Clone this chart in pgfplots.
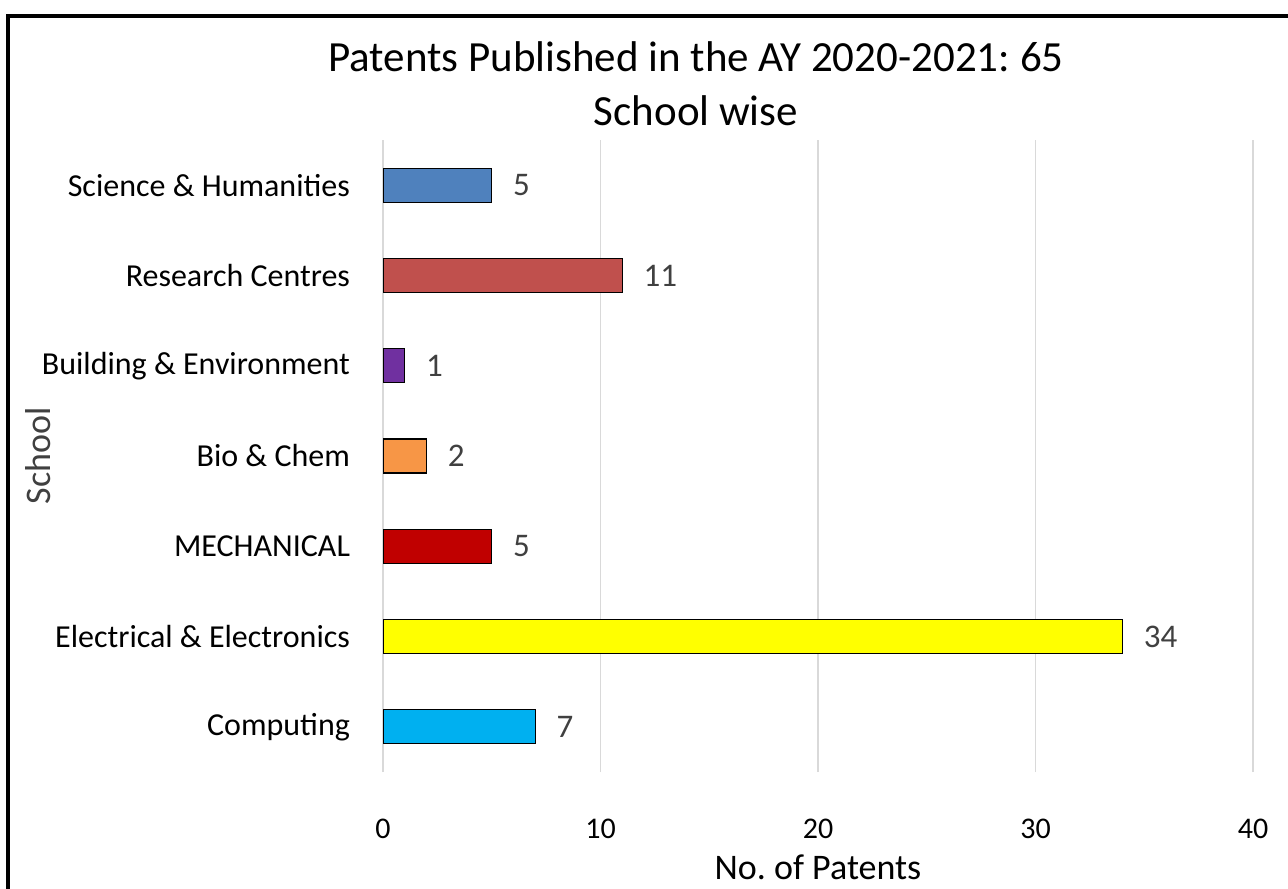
\documentclass[border=0pt]{standalone}
\usepackage{fontspec}
\setmainfont{Carlito}
\usepackage{pgfplots}
\pgfplotsset{compat=1.18}
\usepackage{xcolor}
\definecolor{c1}{HTML}{00B0F0}
\definecolor{c2}{HTML}{FFFF00}
\definecolor{c3}{HTML}{C00000}
\definecolor{c4}{HTML}{F79646}
\definecolor{c5}{HTML}{7030A0}
\definecolor{c6}{HTML}{C0504D}
\definecolor{c7}{HTML}{4F81BD}
\definecolor{gridgray}{HTML}{D9D9D9}
\definecolor{valtext}{HTML}{404040}
\frenchspacing
\begin{document}
\begin{tikzpicture}
\useasboundingbox (0,0) rectangle (644pt,444pt);
\draw[line width=1.6pt] (4pt,-5pt) -- (4pt,436pt) -- (650pt,436pt);
\node[font=\fontsize{21.5}{24}\selectfont] at (348pt,415.5pt) {Patents Published in the AY 2020-2021: 65};
\node[font=\fontsize{21.5}{24}\selectfont] at (348pt,388.5pt) {School wise};
\begin{axis}[
  at={(191.5pt,58pt)}, anchor=south west,
  scale only axis,
  width=435pt, height=316pt,
  xbar, bar width=17pt,
  xmin=0, xmax=40,
  ymin=-0.5, ymax=6.5,
  xtick={0,10,20,30,40},
  ytick={0,1,2,3,4,5,6},
  yticklabels={Computing,Electrical \& Electronics,MECHANICAL,Bio \& Chem,Building \& Environment,Research Centres,Science \& Humanities},
  /pgf/number format/assume math mode=true,
  axis line style={draw=none},
  major tick length=0pt,
  xmajorgrids, grid style={gridgray, line width=0.6pt},
  xticklabel style={font=\fontsize{15}{18}\selectfont, yshift=-20pt},
  yticklabel style={font=\fontsize{16}{19}\selectfont, xshift=-13pt},
  xlabel={No. of Patents},
  xlabel style={font=\fontsize{18}{21}\selectfont, at={(axis description cs:0.5,-0.151)}, anchor=center},
  ylabel={School},
  ylabel style={font=\fontsize{18}{21}\selectfont, color=valtext, at={(axis description cs:-0.3966,0.5)}, anchor=center, rotate=0},
  nodes near coords,
  nodes near coords style={font=\fontsize{16.5}{19}\selectfont, color=valtext, xshift=7pt},
  every axis plot/.append style={draw=black, line width=0.6pt, bar shift=0pt},
]
\addplot[fill=c1] coordinates {(7,0)};
\addplot[fill=c2] coordinates {(34,1)};
\addplot[fill=c3] coordinates {(5,2)};
\addplot[fill=c4] coordinates {(2,3)};
\addplot[fill=c5] coordinates {(1,4)};
\addplot[fill=c6] coordinates {(11,5)};
\addplot[fill=c7] coordinates {(5,6)};
\end{axis}
\end{tikzpicture}
\end{document}
